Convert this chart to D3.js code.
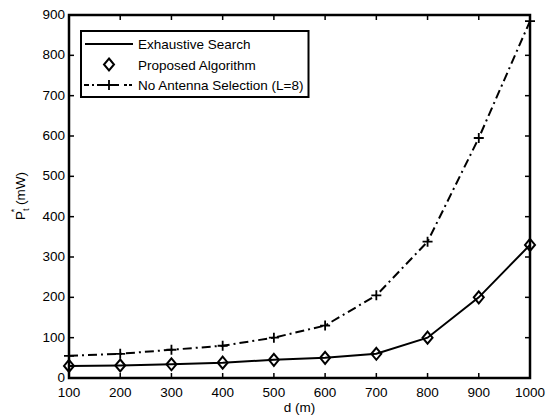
<!DOCTYPE html>
<html>
<head>
<meta charset="utf-8">
<script src="https://cdn.jsdelivr.net/npm/d3@7"></script>
<style>
  body { margin: 0; background: #fff; }
  svg { display: block; font-family: "Liberation Sans", Arial, sans-serif; }
</style>
</head>
<body>
<svg width="548" height="416"></svg>
<script>
// data
let distances = [100, 200, 300, 400, 500, 600, 700, 800, 900, 1000];
let exhaustive = [30, 31, 34, 38, 45, 50, 60, 100, 200, 330];
let proposed = [30, 31, 34, 38, 45, 50, 60, 100, 200, 330];
let noSelection = [55, 60, 70, 80, 100, 130, 205, 338, 595, 885];
let xTicks = [100, 200, 300, 400, 500, 600, 700, 800, 900, 1000];
let yTicks = [0, 100, 200, 300, 400, 500, 600, 700, 800, 900];
let legendLabels = ['Exhaustive Search', 'Proposed Algorithm', 'No Antenna Selection (L=8)'];

let svgNode = d3.select('svg');
let pLeft = 69, pRight = 530, pTop = 15, pBottom = 378;
let fs = 13.5;

let x = d3.scaleLinear().domain([100, 1000]).range([pLeft, pRight]);
let y = d3.scaleLinear().domain([0, 900]).range([pBottom, pTop]);

// ticks inward on all four sides, labels on bottom/left
let tickLen = 5;
let g = svgNode.append('g');
xTicks.forEach(function (t) {
  g.append('line').attr('x1', x(t)).attr('x2', x(t)).attr('y1', pBottom).attr('y2', pBottom - tickLen)
    .attr('stroke', 'black').attr('stroke-width', 1.5);
  g.append('line').attr('x1', x(t)).attr('x2', x(t)).attr('y1', pTop).attr('y2', pTop + tickLen)
    .attr('stroke', 'black').attr('stroke-width', 1.5);
  g.append('text').attr('x', x(t)).attr('y', pBottom + 19).attr('text-anchor', 'middle')
    .attr('font-size', fs).text(t);
});
yTicks.forEach(function (t) {
  g.append('line').attr('x1', pLeft).attr('x2', pLeft + tickLen).attr('y1', y(t)).attr('y2', y(t))
    .attr('stroke', 'black').attr('stroke-width', 1.5);
  g.append('line').attr('x1', pRight).attr('x2', pRight - tickLen).attr('y1', y(t)).attr('y2', y(t))
    .attr('stroke', 'black').attr('stroke-width', 1.5);
  g.append('text').attr('x', pLeft - 4).attr('y', y(t) + 4).attr('text-anchor', 'end')
    .attr('font-size', fs).text(t);
});

let line = d3.line().x((d, i) => x(distances[i])).y(d => y(d));

// no antenna selection, dash-dot
svgNode.append('path')
  .attr('d', line(noSelection))
  .attr('fill', 'none').attr('stroke', 'black').attr('stroke-width', 2)
  .attr('stroke-dasharray', '9,4,2,4');
svgNode.selectAll('path.plus')
  .data(noSelection)
  .enter().append('path')
  .attr('class', 'plus')
  .attr('transform', (d, i) => 'translate(' + x(distances[i]) + ',' + y(d) + ')')
  .attr('d', 'M-5,0H5M0,-5V5')
  .attr('stroke', 'black').attr('stroke-width', 1.8);

// exhaustive search, solid
svgNode.append('path')
  .attr('d', line(exhaustive))
  .attr('fill', 'none').attr('stroke', 'black').attr('stroke-width', 2);

// proposed, diamonds
svgNode.selectAll('path.diamond')
  .data(proposed)
  .enter().append('path')
  .attr('class', 'diamond')
  .attr('transform', (d, i) => 'translate(' + x(distances[i]) + ',' + y(d) + ')')
  .attr('d', 'M0,-6L5,0L0,6L-5,0Z')
  .attr('fill', 'none').attr('stroke', 'black').attr('stroke-width', 2);

// box
svgNode.append('rect')
  .attr('x', pLeft).attr('y', pTop).attr('width', pRight - pLeft).attr('height', pBottom - pTop)
  .attr('fill', 'none').attr('stroke', 'black').attr('stroke-width', 2.5);

// axis labels
svgNode.append('text').attr('x', (pLeft + pRight) / 2).attr('y', 412).attr('text-anchor', 'middle')
  .attr('font-size', fs).text('d (m)');
let yl = svgNode.append('text').attr('transform', 'translate(25,196) rotate(-90)')
  .attr('text-anchor', 'middle').attr('font-size', fs);
yl.append('tspan').text('P');
yl.append('tspan').attr('font-size', 9).attr('dy', 4).text('t');
yl.append('tspan').attr('font-size', 9).attr('dy', -12).attr('dx', -4).text('*');
yl.append('tspan').attr('dy', 8).text(' (mW)');

// legend
let lg = svgNode.append('g');
let box = lg.append('rect').attr('x', 81).attr('y', 31).attr('height', 66)
  .attr('fill', 'white').attr('stroke', 'black').attr('stroke-width', 2);
let rows = [44, 64.5, 85];
lg.append('line').attr('x1', 85).attr('x2', 133).attr('y1', rows[0]).attr('y2', rows[0])
  .attr('stroke', 'black').attr('stroke-width', 2);
lg.append('path').attr('transform', 'translate(109,' + rows[1] + ')')
  .attr('d', 'M0,-6L5,0L0,6L-5,0Z').attr('fill', 'none').attr('stroke', 'black').attr('stroke-width', 2);
lg.append('line').attr('x1', 84).attr('x2', 134).attr('y1', rows[2]).attr('y2', rows[2])
  .attr('stroke', 'black').attr('stroke-width', 2).attr('stroke-dasharray', '5,3,2,3,9,3,2,3,5');
lg.append('path').attr('transform', 'translate(109,' + rows[2] + ')')
  .attr('d', 'M-5,0H5M0,-5V5').attr('stroke', 'black').attr('stroke-width', 1.8);
let maxW = 0;
legendLabels.forEach(function (l, i) {
  let t = lg.append('text').attr('x', 138).attr('y', rows[i] + 5).attr('font-size', fs).text(l);
  maxW = Math.max(maxW, t.node().getComputedTextLength());
});
box.attr('width', 138 + maxW + 5 - 81);
</script>
</body>
</html>
